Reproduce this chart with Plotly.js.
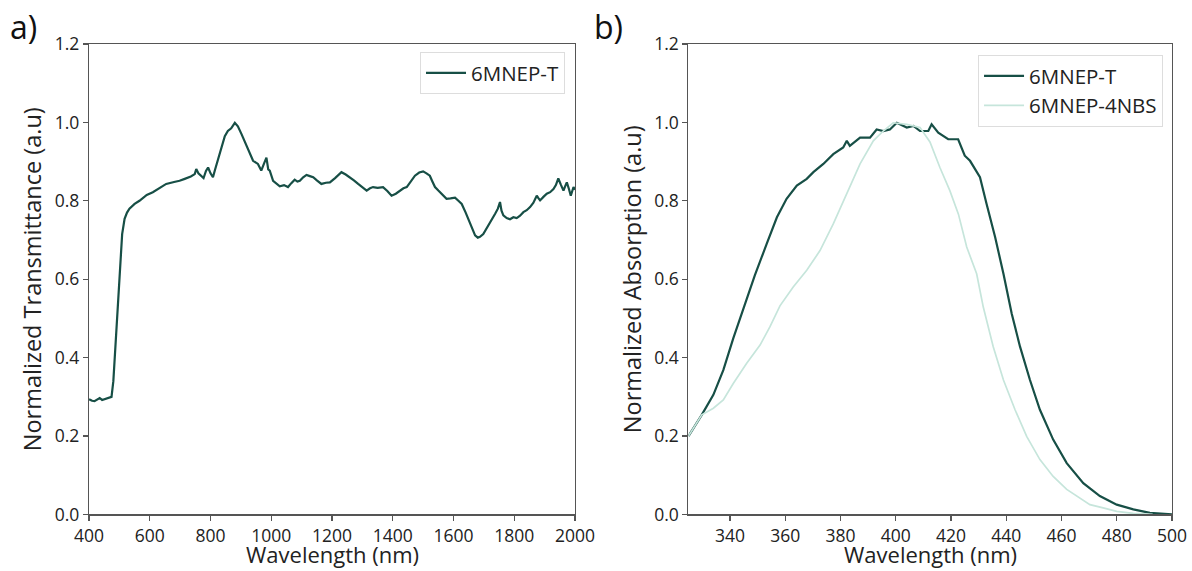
<!DOCTYPE html>
<html>
<head>
<meta charset="utf-8">
<script src="https://cdn.plot.ly/plotly-3.0.1.min.js"></script>
<style>html,body{margin:0;padding:0;background:#fff;}#chart{width:1192px;height:571px;}</style>
</head>
<body>
<div id="chart"></div>
<script>
// Panel a: transmittance of 6MNEP-T
const wlA = [400,410,418,427,435,443,451,460,470,474,480,490,500,509,517,525,533,550,566,590,610,630,654,680,698,715,735,748,753,760,770,777,785,792,800,808,815,825,836,847,857,868,880,890,902,912,923,940,956,967,976,984,990,995,1006,1017,1028,1042,1055,1066,1077,1086,1094,1105,1116,1127,1138,1150,1165,1180,1193,1210,1231,1245,1259,1272,1286,1300,1314,1325,1335,1350,1368,1382,1396,1410,1423,1435,1446,1460,1473,1487,1500,1511,1522,1530,1539,1550,1561,1570,1577,1590,1605,1616,1627,1640,1654,1663,1671,1680,1687,1698,1709,1722,1737,1746,1753,1758,1764,1775,1786,1797,1808,1819,1830,1841,1852,1863,1874,1880,1885,1896,1907,1918,1929,1937,1945,1954,1962,1968,1973,1980,1986,1991,1995,2000];
const tA = [0.294,0.290,0.289,0.293,0.297,0.292,0.294,0.296,0.299,0.300,0.340,0.480,0.610,0.715,0.754,0.770,0.780,0.792,0.800,0.815,0.822,0.832,0.843,0.848,0.851,0.856,0.862,0.868,0.881,0.870,0.864,0.858,0.876,0.885,0.870,0.860,0.880,0.906,0.935,0.965,0.978,0.985,0.999,0.990,0.970,0.952,0.932,0.902,0.894,0.877,0.895,0.910,0.880,0.877,0.851,0.845,0.837,0.840,0.835,0.845,0.854,0.849,0.851,0.860,0.866,0.863,0.860,0.852,0.843,0.846,0.847,0.858,0.873,0.867,0.860,0.852,0.843,0.834,0.826,0.832,0.835,0.833,0.835,0.825,0.813,0.818,0.826,0.832,0.835,0.850,0.864,0.872,0.875,0.870,0.864,0.850,0.835,0.826,0.818,0.810,0.805,0.806,0.808,0.800,0.792,0.770,0.742,0.725,0.712,0.706,0.708,0.715,0.729,0.748,0.767,0.780,0.797,0.775,0.763,0.756,0.753,0.758,0.756,0.762,0.771,0.776,0.784,0.795,0.813,0.806,0.801,0.810,0.818,0.822,0.830,0.840,0.857,0.840,0.826,0.838,0.847,0.830,0.813,0.825,0.835,0.828];

// Panel b: normalized absorption
const wlB1 = [325,329.8,334,337.6,341.2,344.8,349,353.3,357,360.5,364.2,367.8,370.2,373.8,377.4,381,382.3,383.4,387.1,390.7,393.1,395.5,397.9,400.4,404,406.4,408.8,411.8,413,415.4,419,422.6,425,426.9,430.5,432.9,436,439,442,445,448.6,452.2,457,461.9,467.9,473.9,480,486,492,500];
const absT = [0.200,0.254,0.305,0.368,0.449,0.525,0.610,0.690,0.758,0.805,0.839,0.856,0.873,0.894,0.919,0.936,0.953,0.940,0.961,0.961,0.982,0.978,0.982,0.999,0.987,0.991,0.978,0.978,0.995,0.974,0.957,0.957,0.915,0.902,0.860,0.792,0.707,0.614,0.512,0.428,0.343,0.267,0.191,0.131,0.080,0.047,0.025,0.013,0.004,0.000];
const wlB2 = [325,329.8,334,337.6,341.2,346,350.9,354.5,358.1,362.9,367.8,372.6,377.4,382.3,387.1,391.9,395.5,399.1,404,408.8,412.4,416,419.6,422.7,425.7,429.3,431.7,435.3,439,443.2,447.4,452.2,457,461.9,466.7,470.3,475.1,480,486,493];
const abs4NBS = [0.200,0.254,0.271,0.292,0.334,0.385,0.432,0.479,0.532,0.580,0.623,0.673,0.741,0.817,0.894,0.953,0.978,0.999,0.995,0.987,0.950,0.885,0.826,0.766,0.682,0.614,0.529,0.428,0.343,0.267,0.199,0.140,0.097,0.064,0.042,0.025,0.017,0.008,0.003,0.000];

const yTicks = [0.0,0.2,0.4,0.6,0.8,1.0,1.2];
const yTickText = ['0.0','0.2','0.4','0.6','0.8','1.0','1.2'];
const xTicksA = [400,600,800,1000,1200,1400,1600,1800,2000];
const xTicksB = [340,360,380,400,420,440,460,480,500];
const xTitle = 'Wavelength (nm)';

const dark = '#174f46';
const light = '#c6e5db';
const FONT = 'Open Sans, DejaVu Sans, sans-serif';

const traces = [
  {x: wlA, y: tA, type: 'scatter', mode: 'lines', name: '6MNEP-T', line: {color: dark, width: 2.2}, xaxis: 'x', yaxis: 'y', legend: 'legend'},
  {x: wlB1, y: absT, type: 'scatter', mode: 'lines', name: '6MNEP-T', line: {color: dark, width: 2.2}, xaxis: 'x2', yaxis: 'y2', legend: 'legend2'},
  {x: wlB2, y: abs4NBS, type: 'scatter', mode: 'lines', name: '6MNEP-4NBS', line: {color: light, width: 1.7}, xaxis: 'x2', yaxis: 'y2', legend: 'legend2'}
];

const axisCommon = {
  showline: true, linecolor: '#555', linewidth: 1.2, mirror: true,
  ticks: 'outside', ticklen: 5, tickwidth: 1.2, tickcolor: '#555',
  showgrid: false, zeroline: false,
  tickfont: {family: FONT, size: 17.5, color: '#222'}
};

const yDom = [0.099, 0.923];

const layout = {
  width: 1192, height: 571,
  margin: {l: 0, r: 0, t: 0, b: 0},
  paper_bgcolor: '#fff', plot_bgcolor: '#fff',
  font: {family: FONT, color: '#222'},
  showlegend: true,
  xaxis: Object.assign({}, axisCommon, {domain: [0.0747, 0.4824], range: [400, 2000], tickvals: xTicksA, anchor: 'y'}),
  yaxis: Object.assign({}, axisCommon, {domain: yDom, range: [0, 1.2], tickvals: yTicks, ticktext: yTickText, anchor: 'x',
    title: {text: 'Normalized Transmittance (a.u)', font: {family: FONT, size: 23.5, color: '#222'}, standoff: 6}}),
  xaxis2: Object.assign({}, axisCommon, {domain: [0.5776, 0.9832], range: [325, 500], tickvals: xTicksB, anchor: 'y2'}),
  yaxis2: Object.assign({}, axisCommon, {domain: yDom, range: [0, 1.2], tickvals: yTicks, ticktext: yTickText, anchor: 'x2',
    title: {text: 'Normalized Absorption (a.u)', font: {family: FONT, size: 23.5, color: '#222'}, standoff: 6}}),
  legend: {x: 0.474, y: 0.909, xanchor: 'right', yanchor: 'top', bgcolor: '#fff', bordercolor: '#ddd', borderwidth: 1,
    itemwidth: 40, font: {family: FONT, size: 20.5, color: '#222'}},
  legend2: {x: 0.9757, y: 0.9037, xanchor: 'right', yanchor: 'top', bgcolor: '#fff', bordercolor: '#ddd', borderwidth: 1,
    itemwidth: 40, font: {family: FONT, size: 20.5, color: '#222'}},
  annotations: [
    {text: 'a)', xref: 'paper', yref: 'paper', x: 0.007, y: 0.995, xanchor: 'left', yanchor: 'top', showarrow: false,
     font: {family: FONT, size: 32, color: '#111'}},
    {text: 'b)', xref: 'paper', yref: 'paper', x: 0.497, y: 0.995, xanchor: 'left', yanchor: 'top', showarrow: false,
     font: {family: FONT, size: 32, color: '#111'}},
    {text: xTitle, xref: 'x domain', yref: 'paper', x: 0.5, y: 0, xanchor: 'center', yanchor: 'bottom', showarrow: false,
     font: {family: FONT, size: 22, color: '#222'}},
    {text: xTitle, xref: 'x2 domain', yref: 'paper', x: 0.5, y: 0, xanchor: 'center', yanchor: 'bottom', showarrow: false,
     font: {family: FONT, size: 22, color: '#222'}}
  ]
};

Plotly.newPlot('chart', traces, layout, {displayModeBar: false, staticPlot: true});
</script>
</body>
</html>
